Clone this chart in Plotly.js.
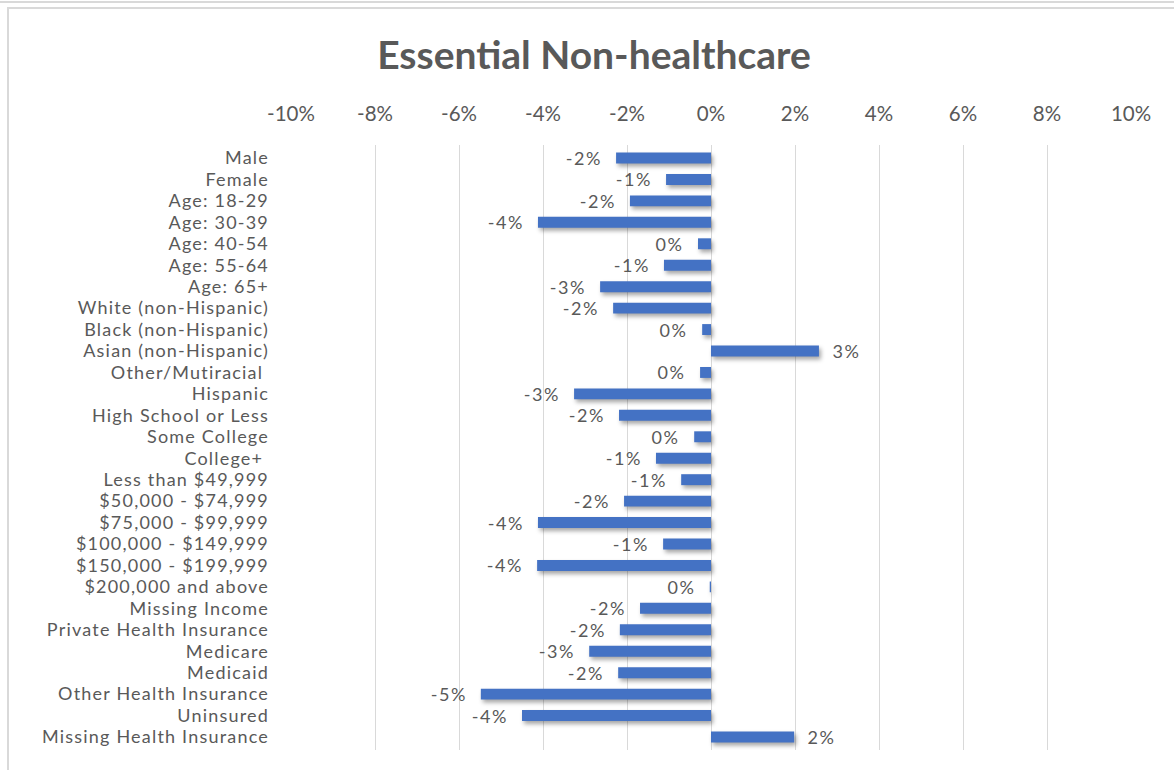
<!DOCTYPE html>
<html>
<head>
<meta charset="utf-8">
<script src="https://cdn.plot.ly/plotly-3.0.1.min.js"></script>
<style>
  html, body { margin: 0; padding: 0; background: #ffffff; overflow: hidden; }
  #chart { position: absolute; left: 0; top: 0; width: 1174px; height: 770px; }
  .frame-top { position: absolute; left: 0; top: 1px; width: 1174px; height: 0; border-top: 2px solid #d9d9d9; z-index: 5; pointer-events: none; }
  .frame-box { position: absolute; left: 7px; top: 7px; width: 1200px; height: 800px; border: 2px solid #d9d9d9; z-index: 5; pointer-events: none; }
  /* soft drop shadow under each bar */
  #chart .barlayer path { filter: drop-shadow(2px 3px 2px rgba(0,0,0,0.35)); }
  /* slightly open spacing for the compact row labels */
  #chart .ytick text { letter-spacing: 1.2px; }
  #chart .annotation-text { letter-spacing: 1.5px; }
  #chart text { font-variant-ligatures: none; }
</style>
</head>
<body>
<div class="frame-top"></div>
<div class="frame-box"></div>
<div id="chart"></div>
<script>
// Change (percentage points) per group
const categories = [
  'Male', 'Female', 'Age: 18-29', 'Age: 30-39', 'Age: 40-54', 'Age: 55-64', 'Age: 65+',
  'White (non-Hispanic)', 'Black (non-Hispanic)', 'Asian (non-Hispanic)', 'Other/Mutiracial ',
  'Hispanic', 'High School or Less', 'Some College', 'College+ ', 'Less than $49,999',
  '$50,000 - $74,999', '$75,000 - $99,999', '$100,000 - $149,999', '$150,000 - $199,999',
  '$200,000 and above', 'Missing Income', 'Private Health Insurance', 'Medicare', 'Medicaid',
  'Other Health Insurance', 'Uninsured', 'Missing Health Insurance'
];
const values = [
  -2.26, -1.07, -1.93, -4.12, -0.31, -1.12, -2.64,
  -2.33, -0.21, 2.57, -0.26,
  -3.26, -2.19, -0.40, -1.31, -0.71,
  -2.07, -4.12, -1.14, -4.14,
  -0.03, -1.69, -2.17, -2.90, -2.21,
  -5.48, -4.50, 1.98
];
const tickValues = [-10, -8, -6, -4, -2, 0, 2, 4, 6, 8, 10];
const tickLabels = tickValues.map(t => t + '%');

const FONT = 'Lato, "Open Sans", sans-serif';
const GREY = '#595959';

function pctLabel(v) {
  const r = Math.round(v);
  return (r === 0 ? 0 : r) + '%';
}

const trace = {
  type: 'bar',
  orientation: 'h',
  y: categories,
  x: values,
  marker: { color: '#4472c4', line: { width: 0 } },
  hoverinfo: 'none'
};

// value labels sit just beyond the end of each bar
const annotations = values.map((v, i) => ({
  x: v,
  y: categories[i],
  xref: 'x',
  yref: 'y',
  text: pctLabel(v),
  showarrow: false,
  xanchor: v < 0 ? 'right' : 'left',
  yanchor: 'middle',
  xshift: v < 0 ? -14 : 13,
  font: { family: FONT, size: 18, color: GREY }
}));

const layout = {
  width: 1174,
  height: 770,
  margin: { l: 291, r: 43, t: 145, b: 20 },
  paper_bgcolor: 'rgba(0,0,0,0)',
  plot_bgcolor: 'rgba(0,0,0,0)',
  showlegend: false,
  bargap: 0.49,
  title: {
    text: '<b>Essential Non-healthcare</b>',
    font: { family: FONT, size: 39, color: GREY },
    x: 0.506,
    xanchor: 'center',
    xref: 'container',
    y: 0.928,
    yanchor: 'middle',
    yref: 'container'
  },
  xaxis: {
    side: 'top',
    range: [-10, 10],
    tickmode: 'array',
    tickvals: tickValues,
    ticktext: tickLabels,
    showgrid: true,
    gridcolor: '#d9d9d9',
    gridwidth: 1,
    zeroline: true,
    zerolinecolor: '#d9d9d9',
    zerolinewidth: 1,
    showline: false,
    ticks: '',
    ticklabelstandoff: 19,
    tickfont: { family: FONT, size: 20.5, color: GREY },
    fixedrange: true
  },
  yaxis: {
    type: 'category',
    autorange: 'reversed',
    tickmode: 'array',
    tickvals: categories,
    ticktext: categories,
    showgrid: false,
    zeroline: false,
    showline: false,
    ticks: '',
    ticklabelstandoff: 21,
    tickfont: { family: FONT, size: 18, color: GREY },
    fixedrange: true
  },
  annotations: annotations
};

Plotly.newPlot('chart', [trace], layout, { displayModeBar: false, staticPlot: true });
</script>
</body>
</html>
